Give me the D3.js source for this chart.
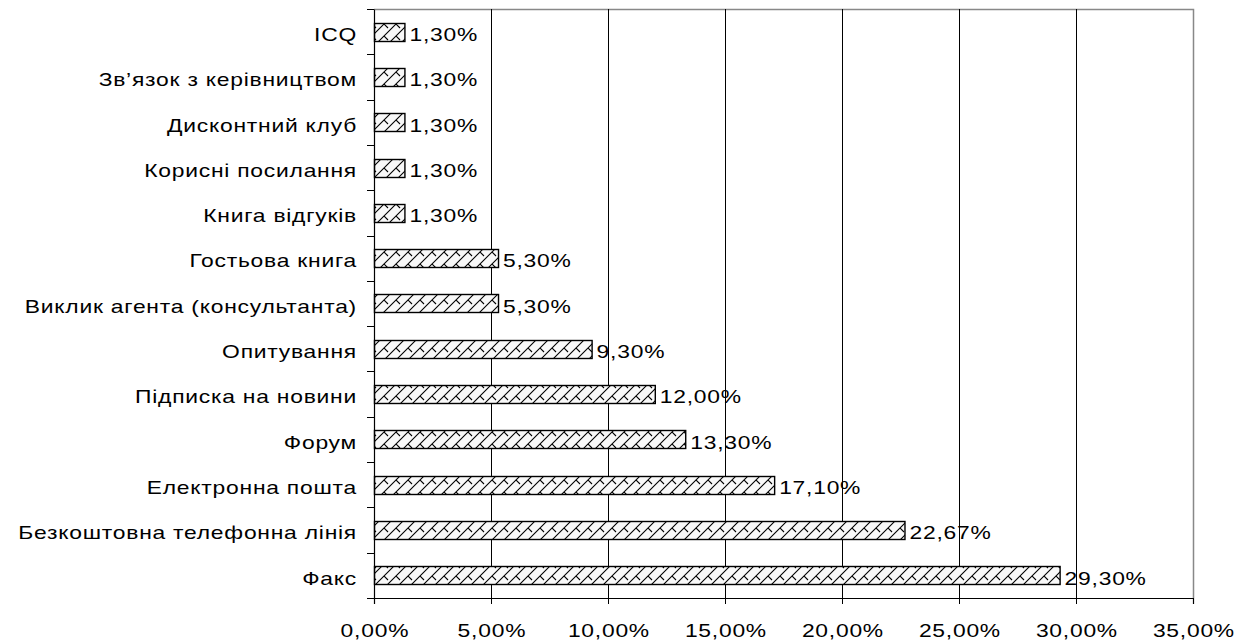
<!DOCTYPE html>
<html>
<head>
<meta charset="utf-8">
<script src="https://cdn.jsdelivr.net/npm/d3@7"></script>
<style>
  html, body { margin: 0; padding: 0; background: #fff; }
  svg { display: block; }
  text { font-family: "Liberation Sans", Arial, sans-serif; fill: #000; letter-spacing: 0.6px; }
</style>
</head>
<body>
<svg id="chart" width="1239" height="640"></svg>
<script>
// Channels of feedback on websites, share of sites using each
const categories = [
  "ICQ",
  "Зв’язок з керівництвом",
  "Дисконтний клуб",
  "Корисні посилання",
  "Книга відгуків",
  "Гостьова книга",
  "Виклик агента (консультанта)",
  "Опитування",
  "Підписка на новини",
  "Форум",
  "Електронна пошта",
  "Безкоштовна телефонна лінія",
  "Факс"
];
const values = [1.30, 1.30, 1.30, 1.30, 1.30, 5.30, 5.30, 9.30, 12.00, 13.30, 17.10, 22.67, 29.30];
const xTicks = [0, 5, 10, 15, 20, 25, 30, 35];

const fmt = v => v.toFixed(2).replace(".", ",") + "%";

const svg = d3.select("#chart");
const plotLeft = 374, plotRight = 1193, plotTop = 9, plotBottom = 598;
const fontSize = 18, stretch = 1.27;   // wide sans lettering

const x = d3.scaleLinear().domain([0, 35]).range([plotLeft, plotRight]);
const y = d3.scaleBand().domain(categories).range([plotTop, plotBottom]).paddingInner(0.6).paddingOuter(0.3);

// hatch fill for the bars
const defs = svg.append("defs");
const pat = defs.append("pattern")
  .attr("id", "hatch")
  .attr("patternUnits", "userSpaceOnUse")
  .attr("width", 12).attr("height", 12);
pat.append("rect").attr("width", 12).attr("height", 12).attr("fill", "#f8f8f8");
pat.append("path")
  .attr("d", "M-3,15 L15,-3 M-3,3 L3,-3 M9,15 L15,9 M0,0 L4,4 M12,0 L16,4")
  .attr("stroke", "#000").attr("stroke-width", 1.1).attr("fill", "none");

// plot frame (top and right)
svg.append("path")
  .attr("d", `M${plotLeft},${plotTop + 0.5} H${plotRight + 0.5} V${plotBottom}`)
  .attr("fill", "none").attr("stroke", "#888").attr("stroke-width", 1.5);

// vertical gridlines
svg.append("g").selectAll("line")
  .data(xTicks.slice(1, -1))
  .join("line")
  .attr("x1", d => Math.round(x(d)) + 0.5).attr("x2", d => Math.round(x(d)) + 0.5)
  .attr("y1", plotTop).attr("y2", plotBottom)
  .attr("stroke", "#000").attr("stroke-width", 1);

// bars
svg.append("g").selectAll("rect")
  .data(values)
  .join("rect")
  .attr("x", x(0) + 0.5)
  .attr("y", (d, i) => Math.round(y(categories[i])) + 0.5)
  .attr("width", d => x(d) - x(0))
  .attr("height", Math.round(y.bandwidth()))
  .attr("fill", "url(#hatch)")
  .attr("stroke", "#000").attr("stroke-width", 1.4);

// value labels
svg.append("g").selectAll("text")
  .data(values)
  .join("text")
  .attr("transform", (d, i) =>
    `translate(${x(d) + 5},${y(categories[i]) + y.bandwidth() / 2 + 9.3}) scale(${stretch},1)`)
  .attr("font-size", fontSize)
  .text(fmt);

// x axis
const xAxis = d3.axisBottom(x).tickValues(xTicks).tickSize(6).tickFormat(fmt);
const gx = svg.append("g").attr("transform", `translate(0,${plotBottom})`).call(xAxis);
gx.select(".domain").attr("stroke", "#000").attr("stroke-width", 1.2);
gx.selectAll(".tick line").attr("stroke", "#000");
gx.selectAll(".tick text")
  .attr("font-size", fontSize).attr("font-family", "Liberation Sans, Arial, sans-serif")
  .attr("y", 0).attr("dy", 0)
  .attr("transform", `translate(0.4,39) scale(${stretch},1)`);

// y axis: category labels, ticks between categories
const yAxis = d3.axisLeft(y).tickSize(0).tickPadding(0);
const gy = svg.append("g").attr("transform", `translate(${plotLeft},0)`).call(yAxis);
gy.select(".domain").attr("stroke", "#000").attr("stroke-width", 1.2);
gy.selectAll(".tick text")
  .attr("font-size", fontSize).attr("font-family", "Liberation Sans, Arial, sans-serif")
  .attr("x", 0).attr("dy", 0).attr("y", 0)
  .attr("transform", `translate(-17,9.3) scale(${stretch},1)`);

const boundaries = d3.range(categories.length + 1).map(i => plotTop + i * (plotBottom - plotTop) / categories.length);
svg.append("g").selectAll("line")
  .data(boundaries)
  .join("line")
  .attr("x1", plotLeft - 7).attr("x2", plotLeft)
  .attr("y1", d => Math.round(d) + 0.5).attr("y2", d => Math.round(d) + 0.5)
  .attr("stroke", "#000");
</script>
</body>
</html>
